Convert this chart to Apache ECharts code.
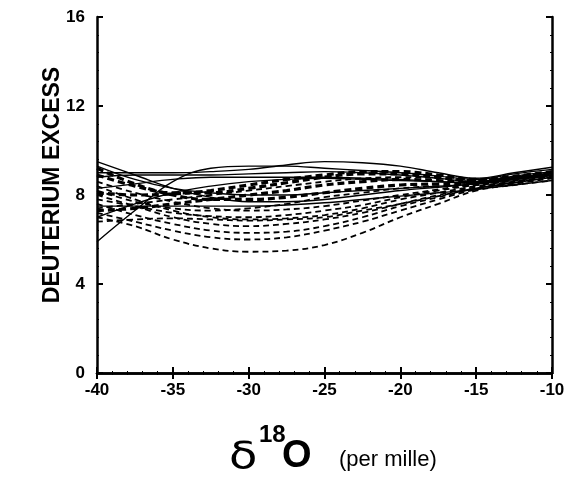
<!DOCTYPE html>
<html>
<head>
<meta charset="utf-8">
<script src="https://cdn.jsdelivr.net/npm/echarts@6/dist/echarts.min.js"></script>
<style>
  html, body { margin: 0; padding: 0; background: #fff; }
  #chart { width: 568px; height: 478px; }
</style>
</head>
<body>
<div id="chart"></div>
<script>
// δ18O sample positions (per mille)
const xValues = [-40, -37.5, -35, -32.5, -30, -27.5, -25, -22.5, -20, -17.5, -15, -12.5, -10];

// Deuterium excess curves drawn with solid lines
const solidLines = [
  [9.0, 9.0, 9.0, 9.05, 9.15, 9.35, 9.5, 9.45, 9.3, 9.0, 8.75, 9.0, 9.25],
  [5.9, 7.3, 8.6, 9.2, 9.3, 9.3, 9.2, 9.1, 9.0, 8.85, 8.7, 8.95, 9.15],
  [9.5, 8.9, 8.3, 7.9, 7.7, 7.7, 7.8, 8.0, 8.2, 8.35, 8.5, 8.7, 8.9],
  [8.8, 8.9, 8.9, 8.9, 8.95, 9.0, 9.05, 9.0, 8.9, 8.75, 8.6, 8.85, 9.05],
  [8.3, 8.5, 8.7, 8.8, 8.8, 8.8, 8.8, 8.75, 8.7, 8.6, 8.55, 8.75, 9.0],
  [7.0, 7.6, 8.1, 8.4, 8.6, 8.7, 8.75, 8.7, 8.65, 8.6, 8.55, 8.7, 8.9],
  [9.3, 8.7, 8.3, 8.1, 8.0, 8.0, 8.1, 8.2, 8.3, 8.4, 8.5, 8.7, 8.9],
  [7.5, 7.5, 7.5, 7.5, 7.5, 7.55, 7.65, 7.8, 7.95, 8.1, 8.25, 8.45, 8.65]
];

// Curves drawn with ordinary dashes
const dashedLines = [
  [7.0, 6.6, 6.0, 5.6, 5.45, 5.5, 5.75, 6.3, 7.0, 7.6, 8.2, 8.45, 8.65],
  [7.2, 6.8, 6.4, 6.1, 6.0, 6.1, 6.4, 6.8, 7.3, 7.8, 8.25, 8.5, 8.75],
  [7.6, 7.1, 6.7, 6.4, 6.3, 6.35, 6.6, 7.0, 7.5, 7.9, 8.3, 8.55, 8.8],
  [8.0, 7.5, 7.0, 6.7, 6.6, 6.7, 6.9, 7.2, 7.6, 8.0, 8.35, 8.6, 8.85],
  [8.4, 7.8, 7.3, 7.0, 6.9, 6.95, 7.1, 7.4, 7.8, 8.1, 8.4, 8.6, 8.85],
  [7.8, 7.5, 7.2, 7.05, 7.0, 7.1, 7.3, 7.55, 7.9, 8.2, 8.45, 8.65, 8.9],
  [8.6, 8.1, 7.7, 7.4, 7.3, 7.35, 7.5, 7.75, 8.0, 8.25, 8.5, 8.7, 8.95],
  [6.8, 6.9, 6.95, 6.9, 6.85, 6.9, 7.0, 7.3, 7.6, 7.95, 8.3, 8.55, 8.8],
  [8.2, 7.7, 7.4, 7.3, 7.4, 7.6, 7.9, 8.1, 8.3, 8.4, 8.45, 8.65, 8.9],
  [7.4, 7.6, 7.8, 8.0, 8.2, 8.4, 8.6, 8.75, 8.8, 8.75, 8.6, 8.8, 9.0]
];

// Curves drawn with heavy dashes
const heavyDashLines = [
  [9.2, 8.5, 8.0, 7.8, 7.8, 7.9, 8.1, 8.3, 8.45, 8.5, 8.55, 8.75, 8.95],
  [8.9, 8.4, 8.1, 8.1, 8.3, 8.55, 8.8, 8.95, 8.95, 8.8, 8.65, 8.8, 9.0],
  [8.1, 8.0, 8.05, 8.2, 8.45, 8.7, 8.9, 9.05, 9.05, 8.9, 8.7, 8.85, 9.05],
  [7.3, 7.4, 7.6, 7.8, 8.0, 8.2, 8.45, 8.6, 8.7, 8.65, 8.55, 8.75, 9.0]
];

// Axis ticks
const xTicks = { min: -40, max: -10, step: 5 };
const yTicks = { min: 0, max: 16, step: 4 };

const FONT = '"Liberation Sans", Arial, Helvetica, sans-serif';

function makeSeries(list, lineStyle) {
  return list.map(vals => ({
    type: 'line',
    data: xValues.map((x, i) => [x, vals[i]]),
    smooth: 0.4,
    showSymbol: false,
    silent: true,
    lineStyle: Object.assign({ color: '#000' }, lineStyle)
  }));
}

const series = []
  .concat(makeSeries(solidLines, { width: 1.4, type: 'solid' }))
  .concat(makeSeries(dashedLines, { width: 1.8, type: [6, 4] }))
  .concat(makeSeries(heavyDashLines, { width: 3.2, type: [7, 4] }));

const axisLine = { show: true, lineStyle: { color: '#000', width: 2.5 } };
const axisTick = { show: true, inside: true, length: 6, lineStyle: { color: '#000', width: 2 } };
const minorTick = { show: true, splitNumber: 5, length: 2, lineStyle: { color: '#000', width: 1 } };
const tickLabel = { color: '#000', fontSize: 17, fontWeight: 'bold', fontFamily: FONT };

const chart = echarts.init(document.getElementById('chart'), null, { renderer: 'canvas' });
chart.setOption({
  animation: false,
  backgroundColor: '#fff',
  grid: { left: 97, right: 16, top: 17, bottom: 105 },
  xAxis: [
    {
      type: 'value', min: xTicks.min, max: xTicks.max, interval: xTicks.step,
      position: 'bottom', axisLine, axisTick, minorTick,
      axisLabel: Object.assign({ margin: 9 }, tickLabel),
      splitLine: { show: false }
    },
    {
      type: 'value', min: xTicks.min, max: xTicks.max, interval: xTicks.step,
      position: 'top', axisLine, axisTick, minorTick,
      axisLabel: { show: false }, splitLine: { show: false }
    }
  ],
  yAxis: [
    {
      type: 'value', min: yTicks.min, max: yTicks.max, interval: yTicks.step,
      position: 'left', axisLine, axisTick, minorTick,
      axisLabel: Object.assign({ margin: 12 }, tickLabel),
      splitLine: { show: false },
      name: 'DEUTERIUM EXCESS', nameLocation: 'middle', nameGap: 33,
      nameMoveOverlap: false,
      nameTextStyle: { color: '#000', fontSize: 23, fontWeight: 'bold', fontFamily: FONT, padding: [0, 0, 0, 20] }
    },
    {
      type: 'value', min: yTicks.min, max: yTicks.max, interval: yTicks.step,
      position: 'right', axisLine, axisTick, minorTick,
      axisLabel: { show: false }, splitLine: { show: false }
    }
  ],
  graphic: [
    { type: 'text', x: 229, y: 439, scaleX: 1.22, style: { text: 'δ', font: '38px "DejaVu Sans", sans-serif', fill: '#000' } },
    { type: 'text', left: 259, top: 423, style: { text: '18', font: 'bold 24px ' + FONT, fill: '#000' } },
    { type: 'text', left: 282, top: 438, style: { text: 'O', font: 'bold 38px ' + FONT, fill: '#000' } },
    { type: 'text', left: 339, top: 449, style: { text: '(per mille)', font: '22px ' + FONT, fill: '#000' } }
  ],
  series
});
</script>
</body>
</html>
